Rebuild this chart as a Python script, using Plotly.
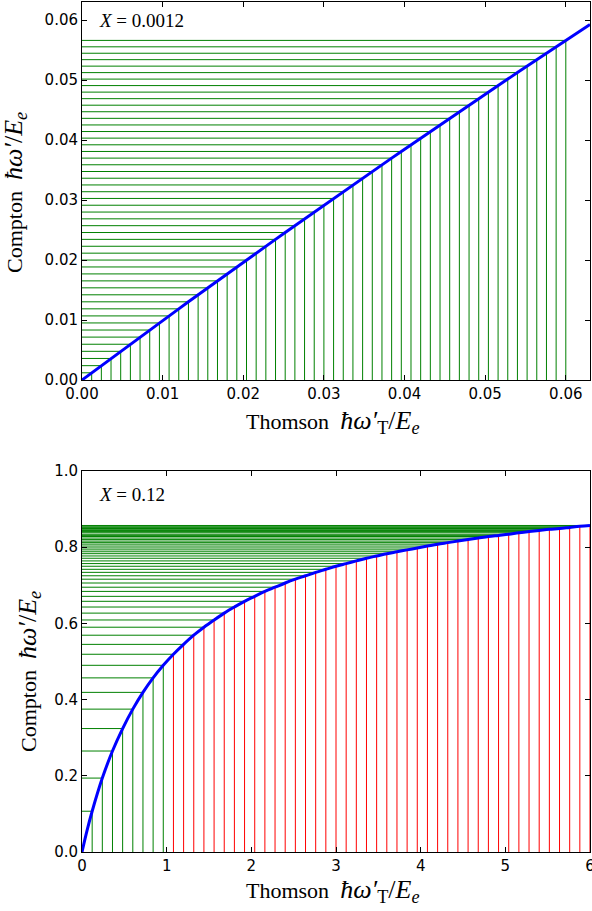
import plotly.graph_objects as go

# ---- data (top panel, X = 0.0012) ----
top_x = [0.0012, 0.0024, 0.0036, 0.0048, 0.0060, 0.0072, 0.0084, 0.0096, 0.0108, 0.0120,
         0.0132, 0.0144, 0.0156, 0.0168, 0.0180, 0.0192, 0.0204, 0.0216, 0.0228, 0.0240,
         0.0252, 0.0264, 0.0276, 0.0288, 0.0300, 0.0312, 0.0324, 0.0336, 0.0348, 0.0360,
         0.0372, 0.0384, 0.0396, 0.0408, 0.0420, 0.0432, 0.0444, 0.0456, 0.0468, 0.0480,
         0.0492, 0.0504, 0.0516, 0.0528, 0.0540, 0.0552, 0.0564, 0.0576, 0.0588, 0.0600]
top_y = [0.00120, 0.00239, 0.00359, 0.00478, 0.00596, 0.00715, 0.00833, 0.00951, 0.01068, 0.01186,
         0.01303, 0.01420, 0.01536, 0.01652, 0.01768, 0.01884, 0.01999, 0.02114, 0.02229, 0.02344,
         0.02458, 0.02572, 0.02686, 0.02799, 0.02913, 0.03026, 0.03138, 0.03251, 0.03363, 0.03475,
         0.03587, 0.03698, 0.03809, 0.03920, 0.04031, 0.04141, 0.04251, 0.04361, 0.04471, 0.04580,
         0.04689, 0.04798, 0.04907, 0.05015, 0.05123, 0.05231, 0.05339, 0.05446, 0.05553, 0.05660]
top_curve_x = [0.0] + top_x + [0.063]
top_curve_y = [0.0] + top_y + [0.05927]

# ---- data (bottom panel, X = 0.12) ----
bot_x = [0.12, 0.24, 0.36, 0.48, 0.60, 0.72, 0.84, 0.96, 1.08, 1.20,
         1.32, 1.44, 1.56, 1.68, 1.80, 1.92, 2.04, 2.16, 2.28, 2.40,
         2.52, 2.64, 2.76, 2.88, 3.00, 3.12, 3.24, 3.36, 3.48, 3.60,
         3.72, 3.84, 3.96, 4.08, 4.20, 4.32, 4.44, 4.56, 4.68, 4.80,
         4.92, 5.04, 5.16, 5.28, 5.40, 5.52, 5.64, 5.76, 5.88, 6.00]
bot_y = [0.107, 0.194, 0.265, 0.324, 0.375, 0.419, 0.457, 0.490, 0.519, 0.545,
         0.569, 0.590, 0.609, 0.627, 0.643, 0.658, 0.671, 0.684, 0.695, 0.706,
         0.716, 0.725, 0.734, 0.742, 0.750, 0.757, 0.764, 0.771, 0.777, 0.783,
         0.788, 0.793, 0.798, 0.803, 0.808, 0.812, 0.816, 0.820, 0.824, 0.828,
         0.831, 0.834, 0.838, 0.841, 0.844, 0.847, 0.849, 0.852, 0.855, 0.857]
bot_curve_x = [0.0, 0.03, 0.06] + bot_x
bot_curve_y = [0.0, 0.029, 0.057] + bot_y
threshold = 1.0

GREEN = "#008000"
RED = "#ff0000"
BLUE = "#0000ff"

W, H = 592, 911
ML, MR, MT, MB = 82, 2, 2, 59
PH = H - MT - MB


def py(p):
    """pixel row -> paper y"""
    return (H - MB - p) / PH


def px(p):
    return (p - ML) / (W - ML - MR)


def hlines(xs, ys):
    X, Y = [], []
    for x, y in zip(xs, ys):
        X += [0, x, None]
        Y += [y, y, None]
    return X, Y


def vlines(xs, ys):
    X, Y = [], []
    for x, y in zip(xs, ys):
        X += [x, x, None]
        Y += [0, y, None]
    return X, Y


fig = go.Figure()

# top panel
hx, hy = hlines(top_x, top_y)
fig.add_trace(go.Scatter(x=hx, y=hy, mode="lines", line=dict(color=GREEN, width=1),
                         xaxis="x", yaxis="y", showlegend=False, hoverinfo="skip"))
vx, vy = vlines(top_x, top_y)
fig.add_trace(go.Scatter(x=vx, y=vy, mode="lines", line=dict(color=GREEN, width=1),
                         xaxis="x", yaxis="y", showlegend=False, hoverinfo="skip"))
fig.add_trace(go.Scatter(x=top_curve_x, y=top_curve_y, mode="lines",
                         line=dict(color=BLUE, width=3), xaxis="x", yaxis="y", showlegend=False))

# bottom panel
hx, hy = hlines(bot_x, bot_y)
fig.add_trace(go.Scatter(x=hx, y=hy, mode="lines", line=dict(color=GREEN, width=1),
                         xaxis="x2", yaxis="y2", showlegend=False, hoverinfo="skip"))
gx = [x for x in bot_x if x < threshold]
gy = [y for x, y in zip(bot_x, bot_y) if x < threshold]
rx = [x for x in bot_x if x >= threshold]
ry = [y for x, y in zip(bot_x, bot_y) if x >= threshold]
vx, vy = vlines(gx, gy)
fig.add_trace(go.Scatter(x=vx, y=vy, mode="lines", line=dict(color=GREEN, width=1),
                         xaxis="x2", yaxis="y2", showlegend=False, hoverinfo="skip"))
vx, vy = vlines(rx, ry)
fig.add_trace(go.Scatter(x=vx, y=vy, mode="lines", line=dict(color=RED, width=1),
                         xaxis="x2", yaxis="y2", showlegend=False, hoverinfo="skip"))
fig.add_trace(go.Scatter(x=bot_curve_x, y=bot_curve_y, mode="lines", line_shape="spline",
                         line=dict(color=BLUE, width=3), xaxis="x2", yaxis="y2", showlegend=False))

axis_common = dict(showline=True, mirror="ticks", linecolor="black", linewidth=1,
                   ticks="inside", ticklen=5, tickcolor="black", showgrid=False,
                   zeroline=False, automargin=False, ticklabeloverflow="allow",
                   tickfont=dict(family="DejaVu Sans", size=15, color="black"))

top_ticks = [0.00, 0.01, 0.02, 0.03, 0.04, 0.05, 0.06]
top_labels = ["0.00", "0.01", "0.02", "0.03", "0.04", "0.05", "0.06"]
bot_xticks = [0, 1, 2, 3, 4, 5, 6]
bot_xlabels = ["0", "1", "2", "3", "4", "5", "6"]
bot_yticks = [0.0, 0.2, 0.4, 0.6, 0.8, 1.0]
bot_ylabels = ["0.0", "0.2", "0.4", "0.6", "0.8", "1.0"]

fig.update_layout(
    width=W, height=H, autosize=False,
    margin=dict(l=ML, r=MR, t=MT, b=MB, pad=0),
    paper_bgcolor="white", plot_bgcolor="white",
    xaxis=dict(domain=[0, 1], range=[0, 0.063], anchor="y", tickvals=top_ticks,
               ticktext=top_labels, **axis_common),
    yaxis=dict(domain=[py(380), 1], range=[0, 0.063], anchor="x", tickvals=top_ticks,
               ticktext=top_labels, **axis_common),
    xaxis2=dict(domain=[0, 1], range=[0, 6], anchor="y2", tickvals=bot_xticks,
                ticktext=bot_xlabels, **axis_common),
    yaxis2=dict(domain=[0, py(471)], range=[0, 1.0], anchor="x2", tickvals=bot_yticks,
                ticktext=bot_ylabels, **axis_common),
)

SERIF = "Liberation Serif"
math_x = "<span style=\"font-size:26px\"><i>ħω′</i><sub>T</sub>/<i>E</i><sub><i>e</i></sub></span>"
math_y = "<span style=\"font-size:26px\"><i>ħω′</i>/<i>E</i><sub><i>e</i></sub></span>"
xtitle = "Thomson\u2002" + math_x
ytitle = "Compton\u2002" + math_y

ann = []
ann.append(dict(text=xtitle, x=px(333), y=py(422), xref="paper", yref="paper",
                xanchor="center", yanchor="middle", showarrow=False,
                font=dict(family=SERIF, size=22, color="black")))
ann.append(dict(text=xtitle, x=px(333), y=py(891), xref="paper", yref="paper",
                xanchor="center", yanchor="middle", showarrow=False,
                font=dict(family=SERIF, size=22, color="black")))
ann.append(dict(text=ytitle, x=px(15), y=py(193), xref="paper", yref="paper",
                textangle=-90, xanchor="center", yanchor="middle", showarrow=False,
                font=dict(family=SERIF, size=22, color="black")))
ann.append(dict(text=ytitle, x=px(29), y=py(672), xref="paper", yref="paper",
                textangle=-90, xanchor="center", yanchor="middle", showarrow=False,
                font=dict(family=SERIF, size=22, color="black")))
ann.append(dict(text="<i>X</i> = 0.0012", x=px(97), y=py(21), xref="paper", yref="paper",
                xanchor="left", yanchor="middle", showarrow=False,
                font=dict(family=SERIF, size=19, color="black")))
ann.append(dict(text="<i>X</i> = 0.12", x=px(97), y=py(494), xref="paper", yref="paper",
                xanchor="left", yanchor="middle", showarrow=False,
                font=dict(family=SERIF, size=19, color="black")))
fig.update_layout(annotations=ann)

fig.write_html("out.html")
